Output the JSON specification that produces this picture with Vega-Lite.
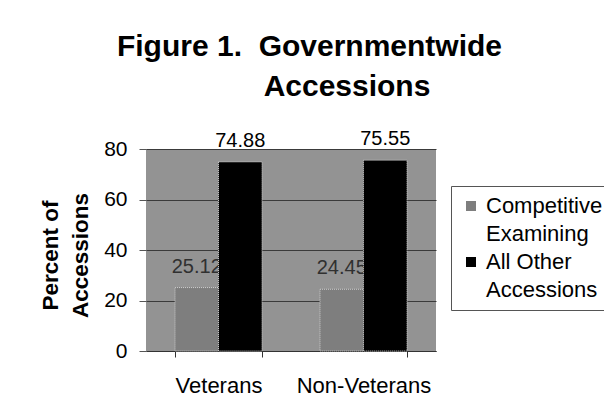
{
  "$schema": "https://vega.github.io/schema/vega-lite/v6.json",
  "width": 290,
  "height": 202,
  "autosize": {"type": "none"},
  "padding": {"left": 146, "top": 149, "right": 168, "bottom": 63},
  "background": "white",
  "title": {
    "text": ["Figure 1.\u00a0\u00a0Governmentwide\u00a0\u00a0\u00a0\u00a0\u00a0\u00a0\u00a0\u00a0\u00a0\u200c", "Accessions"],
    "font": "Liberation Sans",
    "fontSize": 30,
    "fontWeight": "bold",
    "color": "#000000",
    "lineHeight": 40,
    "anchor": "middle",
    "frame": "group",
    "dx": 56,
    "offset": 27
  },
  "data": {
    "values": [
      {"group": "Veterans", "series": "Competitive Examining", "value": 25.12},
      {"group": "Veterans", "series": "All Other Accessions", "value": 74.88},
      {"group": "Non-Veterans", "series": "Competitive Examining", "value": 24.45},
      {"group": "Non-Veterans", "series": "All Other Accessions", "value": 75.55}
    ]
  },
  "encoding": {
    "x": {
      "field": "group",
      "type": "nominal",
      "sort": ["Veterans", "Non-Veterans"],
      "scale": {"paddingInner": 0.4, "paddingOuter": 0.2},
      "axis": {
        "title": null,
        "labelAngle": 0,
        "labelFont": "Liberation Sans",
        "labelFontSize": 22,
        "labelColor": "#000000",
        "labelPadding": 18,
        "tickSize": 6,
        "tickBand": "extent",
        "tickColor": "#333333",
        "domainColor": "#333333",
        "grid": false
      }
    },
    "xOffset": {"field": "series", "type": "nominal", "sort": ["Competitive Examining", "All Other Accessions"]},
    "y": {
      "field": "value",
      "type": "quantitative",
      "scale": {"domain": [0, 80]},
      "axis": {
        "values": [0, 20, 40, 60, 80],
        "grid": true,
        "gridColor": "#3a3a3a",
        "gridWidth": 1,
        "domain": false,
        "tickSize": 7,
        "tickColor": "#555555",
        "labelFont": "Liberation Sans",
        "labelFontSize": 21,
        "labelColor": "#000000",
        "labelPadding": 12,
        "title": ["Percent of", "Accessions"],
        "titleFont": "Liberation Sans",
        "titleFontSize": 22.5,
        "titleFontWeight": "bold",
        "titleColor": "#000000",
        "titleLineHeight": 30,
        "titleAngle": -90,
        "titleAlign": "center",
        "titleBaseline": "middle",
        "titleX": -96,
        "titleY": 106
      }
    }
  },
  "layer": [
    {
      "mark": {"type": "text", "baseline": "alphabetic", "dy": -15, "font": "Liberation Sans", "fontSize": 20},
      "encoding": {
        "text": {"field": "value", "type": "quantitative", "format": ".2f"},
        "color": {"condition": {"test": "datum.series == 'Competitive Examining'", "value": "#303030"}, "value": "#000000"}
      }
    },
    {
      "mark": {"type": "bar", "stroke": "#cccccc", "strokeWidth": 1, "strokeDash": [1, 1]},
      "encoding": {
        "color": {
          "field": "series",
          "type": "nominal",
          "scale": {"domain": ["Competitive Examining", "All Other Accessions"], "range": ["#7e7e7e", "#000000"]},
          "legend": {
            "orient": "none",
            "legendX": 305,
            "legendY": 37,
            "title": null,
            "symbolType": "square",
            "symbolSize": 100,
            "symbolStrokeWidth": 0,
            "labelFont": "Liberation Sans",
            "labelFontSize": 22,
            "labelColor": "#000000",
            "labelLimit": 0,
            "labelOffset": 4,
            "labelExpr": "datum.label == 'Competitive Examining' ? ['Competitive', 'Examining'] : ['All Other', 'Accessions']",
            "padding": 9,
            "rowPadding": 6,
            "strokeColor": "#555555"
          }
        }
      }
    }
  ],
  "config": {
    "view": {"fill": "#939393", "stroke": null},
    "style": {"guide-label": {"lineHeight": 27.5}}
  }
}
